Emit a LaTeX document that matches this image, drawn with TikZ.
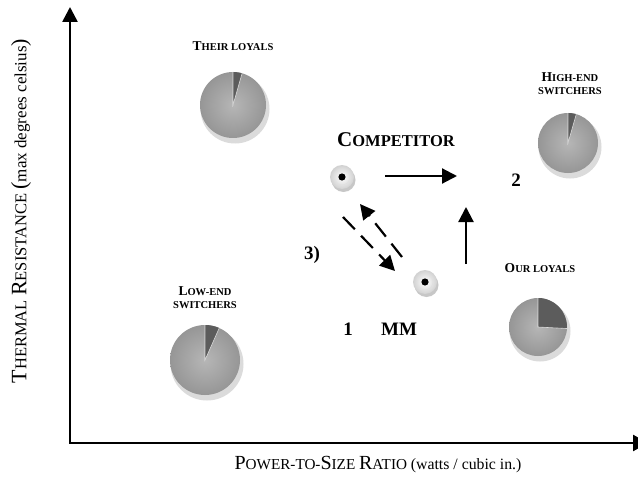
\documentclass[tikz,border=0pt]{standalone}
\usepackage{fontspec}
\setmainfont{Liberation Serif}
\usetikzlibrary{arrows.meta,calc}
\definecolor{pieinner}{RGB}{182,182,182}
\definecolor{pieouter}{RGB}{150,150,150}
\definecolor{piedark}{RGB}{92,92,92}
\newcommand\fs[1]{\fontsize{#1}{#1}\selectfont}
\newcommand\drawpie[4]{%
  \fill[black!14] ($(#1)+(2,4)$) circle (#2+1.5pt);
  \shade[inner color=pieinner, outer color=pieouter] (#1) circle (#2);
  \fill[piedark] (#1) -- ++(#3:#2) arc[start angle=#3, end angle=#4, radius=#2] -- cycle;
  \draw[white, line width=0.6pt, opacity=0.7] ($(#1)+(#3:#2)$) -- (#1) -- ($(#1)+(#4:#2)$);
}
\newcommand\drawdisc[1]{%
  \fill[black!22] ($(#1)+(1.5,3)$) circle (12pt);
  \shade[inner color=white, outer color=black!18] (#1) circle (12pt);
  \draw[black!12, line width=0.5pt] (#1) circle (8pt);
  \fill[black] (#1) circle (3.6pt);
}
\tikzset{
  axisline/.style={line width=2.6pt, line join=miter},
  arr/.style={line width=2.2pt, -{Triangle[length=15pt,width=15pt]}},
  darr/.style={arr, dash pattern=on 17pt off 9pt},
  ttl/.style={font=\bfseries, align=center, inner sep=0pt},
  bignum/.style={font=\bfseries\fs{19}, inner sep=0pt},
  axlab/.style={inner sep=0pt}
}
\begin{document}
\begin{tikzpicture}[x=1pt,y=-1pt]
\useasboundingbox[fill=white] (0,0) rectangle (638,487);

% axes
\coordinate (ytop) at (70,7);
\coordinate (O) at (70,443);
\coordinate (xend) at (648,443);
\draw[axisline, {Triangle[length=15pt,width=15pt]}-{Triangle[length=15pt,width=16pt]}] (ytop) -- (O) -- (xend);

% axis labels
\node[axlab, rotate=90] (ylab) at (21,211)
  {{\fs{22}T}{\fs{16.5}HERMAL }{\fs{22}R}{\fs{16.5}ESISTANCE }{\fs{22}(}{\fs{17}max degrees celsius}{\fs{22})}};
\node[axlab] (xlab) at (378,465)
  {{\fs{20}P}{\fs{15.2}OWER-TO-}{\fs{20}S}{\fs{15.2}IZE }{\fs{20}R}{\fs{15.2}ATIO }{\fs{15.8}(watts / cubic in.)}};

% pies
\coordinate (p1) at (233,105);
\coordinate (p2) at (568,143);
\coordinate (p3) at (205,360);
\coordinate (p4) at (538,327);
\drawpie{p1}{33pt}{90}{74}
\drawpie{p2}{30pt}{90}{74}
\drawpie{p3}{35pt}{90}{66}
\drawpie{p4}{29pt}{90}{-3}

\node[ttl] (t1) at (233,46) {{\fs{13.5}T}{\fs{10.5}HEIR LOYALS}};
\node[ttl] (t2) at (570,84) {{\fs{13.5}H}{\fs{10.5}IGH-END}\\[1pt]{\fs{10.5}SWITCHERS}};
\node[ttl] (t3) at (205,298) {{\fs{13.5}L}{\fs{10.5}OW-END}\\[1pt]{\fs{10.5}SWITCHERS}};
\node[ttl] (t4) at (540,268) {{\fs{13.5}O}{\fs{10.5}UR LOYALS}};

% discs
\coordinate (comp) at (342,177);
\coordinate (mm) at (425,282);
\drawdisc{comp}
\drawdisc{mm}

\node[ttl] (ctext) at (396,140) {{\fs{21}C}{\fs{16.5}OMPETITOR}};
\node[bignum] (n2) at (516,180) {2};
\node[bignum] (n3) at (312,255) {3)};
\node[bignum] (n1) at (348,329) {1};
\node[bignum] (nmm) at (399,329) {MM};

% arrows
\coordinate (h1) at (385,176);
\coordinate (h2) at (457,176);
\coordinate (v1) at (466,264);
\coordinate (v2) at (466,207);
\coordinate (a1) at (343,217);
\coordinate (a2) at (395,271);
\coordinate (b1) at (402,257);
\coordinate (b2) at (360,204);
\draw[arr] (h1) -- (h2);
\draw[arr] (v1) -- (v2);
\draw[darr] (a1) -- (a2);
\draw[darr] (b1) -- (b2);
\end{tikzpicture}
\end{document}
